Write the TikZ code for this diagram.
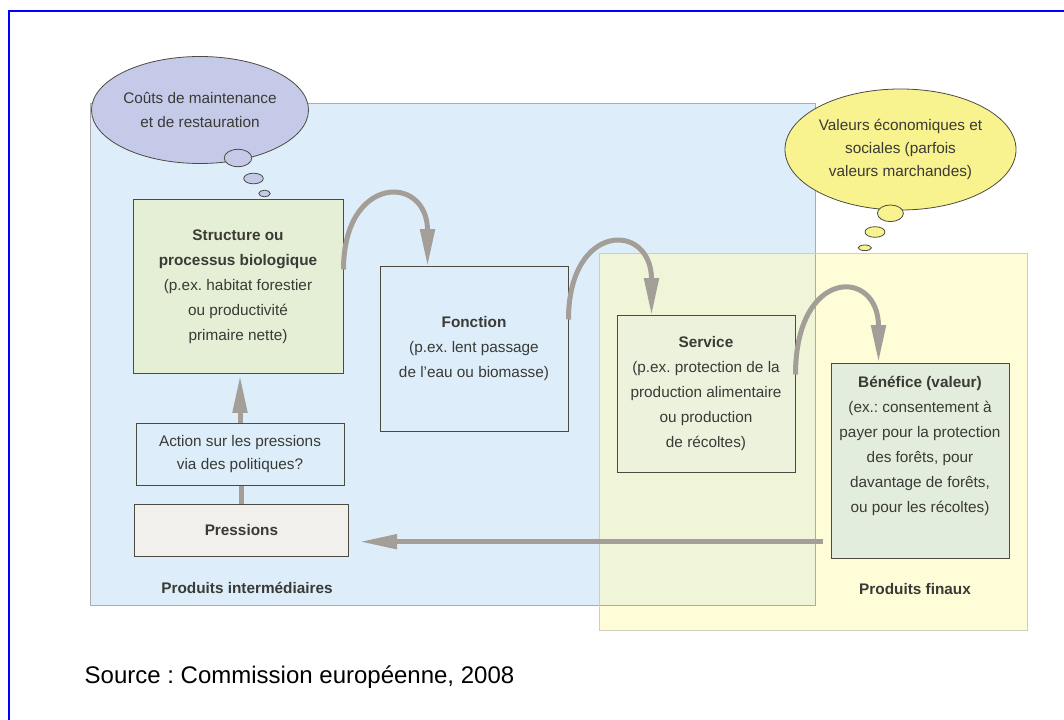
\documentclass[tikz,border=0pt]{standalone}
\usepackage{fontspec}
\setmainfont{Liberation Sans}
\usepackage{tikz}
\usetikzlibrary{
  shapes.geometric
  , calc
  , arrows.meta
}
\frenchspacing
% couleurs
\definecolor{bleuzone}{HTML}{DDEEFA}
\definecolor{jaunezone}{HTML}{FFFDD8}
\definecolor{mixzone}{HTML}{F0F5D8}
\definecolor{bordzone}{HTML}{ABABAB}
\definecolor{bordjaune}{HTML}{CFCFBE}
\definecolor{bord}{HTML}{4B4B42}
\definecolor{texte}{HTML}{3A3A36}
\definecolor{gris}{HTML}{A39F98}
\definecolor{vertstruct}{HTML}{E4EFD5}
\definecolor{vertserv}{HTML}{EDF2DC}
\definecolor{vertbene}{HTML}{E3EDDD}
\definecolor{grispress}{HTML}{F1F0EC}
\definecolor{lavande}{HTML}{C5CAE8}
\definecolor{jaunebulle}{HTML}{F8F38E}
\def\boitefont{\fontsize{11.5}{18.75}\selectfont}
\def\bullefont{\fontsize{11.5}{17.5}\selectfont}
\tikzset{
  boite/.style={rectangle, draw=bord, line width=0.75pt, align=center,
    inner sep=0pt, font=\boitefont, text=texte},
  bulle/.style={ellipse, draw=bord, line width=0.6pt, align=center,
    inner sep=0pt, font=\bullefont, text=texte},
  fleche/.style={draw=gris, line width=3.75pt,
    -{Triangle[length=28pt,width=10.5pt]}},
  trait/.style={draw=gris, line width=3.75pt},
  zone/.style={font=\boitefont\bfseries, text=texte},
}

\begin{document}
\begin{tikzpicture}[x=0.75pt, y=-0.75pt]
  \useasboundingbox [fill=white] (0,0) rectangle (1064,720);
  \draw [blue, line width=1.8pt] (8.8,720) -- (8.8,10.8) -- (1064,10.8);

  % zones
  \fill [bleuzone] (90.6,103.3) rectangle (815.6,605.7);
  \fill [jaunezone] (599,253.3) rectangle (1027.3,630.7);
  \fill [mixzone] (599,253.3) rectangle (815.6,605.7);
  \draw [bordzone, line width=0.75pt] (90.6,103.3) rectangle (815.6,605.7);
  \draw [bordjaune, line width=0.75pt] (599,253.3) rectangle (1027.3,630.7);

  % boites
  \node [boite, fill=vertstruct,
    minimum width=157.5pt,
    minimum height=129.75pt] (struct) at (238,286.5)
    {\textbf{Structure ou}\\ \textbf{processus biologique}\\
     (p.ex. habitat forestier\\ ou productivité\\ primaire nette)};
  \node [boite, fill=bleuzone,
    minimum width=141pt,
    minimum height=123pt] (fonc) at (474,349)
    {\textbf{Fonction}\\ (p.ex. lent passage\\ de l’eau ou biomasse)};
  \node [boite, fill=vertserv,
    minimum width=133.5pt,
    minimum height=117pt] (serv) at (706,394)
    {\textbf{Service}\\ (p.ex. protection de la\\ production alimentaire\\
     ou production\\ de récoltes)};
  \node [boite, fill=vertbene,
    minimum width=133.5pt,
    minimum height=146.25pt] (bene) at (920,460.5)
    {\textbf{Bénéfice (valeur)}\\ (ex.: consentement à\\
     payer pour la protection\\ des forêts, pour\\
     davantage de forêts,\\ ou pour les récoltes)\\[6pt]};
  \node [boite, fill=bleuzone, font=\bullefont,
    minimum width=156pt,
    minimum height=46.5pt] (action) at (240,454)
    {Action sur les pressions\\ via des politiques?};
  \node [boite, fill=grispress,
    minimum width=160.9pt,
    minimum height=39.4pt] (press) at (241.4,530.5)
    {\textbf{Pressions}};

  \node [zone] (inter) at (247,588) {Produits intermédiaires};
  \node [zone] (finaux) at (915,589) {Produits finaux};

  % fleches
  \draw [fleche] ($(struct.north east)+(0,70)$)
    .. controls ($(struct.north east)+(0,-25.5)$)
    and ($(fonc.north west)+(48,-92.5)$) .. ($(fonc.north west)+(48,0)$);
  \draw [fleche] ($(fonc.north east)+(0,53)$)
    .. controls ($(fonc.north east)+(0,-45)$)
    and ($(serv.north west)+(35,-94)$) .. ($(serv.north west)+(35,0)$);
  \draw [fleche] ($(serv.north east)+(0,59)$)
    .. controls ($(serv.north east)+(0,-48.3)$)
    and ($(bene.north west)+(48,-95)$) .. ($(bene.north west)+(48,0)$);

  \coordinate (retour) at (0,541.7);
  \draw [fleche, shorten <=6pt, shorten >=7.9pt]
    (bene.west |- retour) -- (press.east |- retour);
  \draw [fleche, shorten >=1.5pt] (action.north) -- (action.north |- struct.south);
  \draw [trait] (press.north) -- (press.north |- action.south);

  % bulles
  \node [bulle, fill=lavande,
    minimum width=151.5pt,
    minimum height=80.25pt] (couts) at (200,110)
    {Coûts de maintenance\\ et de restauration};
  \draw [bord, fill=lavande, line width=0.6pt] (238,158) ellipse [x radius=13.8, y radius=8.7];
  \draw [bord, fill=lavande, line width=0.6pt] (253.5,178.5) ellipse [x radius=9.8, y radius=5.3];
  \draw [bord, fill=lavande, line width=0.6pt] (264.5,193.5) ellipse [x radius=5.7, y radius=3.3];

  \node [bulle, fill=jaunebulle,
    minimum width=171pt,
    minimum height=90.75pt] (valeurs) at (900.5,149.5)
    {Valeurs économiques et\\ sociales (parfois\\ valeurs marchandes)};
  \draw [bord, fill=jaunebulle, line width=0.6pt] (890.4,213.3) ellipse [x radius=13, y radius=8.3];
  \draw [bord, fill=jaunebulle, line width=0.6pt] (875,232) ellipse [x radius=10, y radius=5.3];
  \draw [bord, fill=jaunebulle, line width=0.6pt] (864.8,247.8) ellipse [x radius=6.6, y radius=2.8];

  \node [anchor=west, font=\fontsize{18}{22}\selectfont, text=black] (source) at (80,677)
    {Source : Commission européenne, 2008};
\end{tikzpicture}
\end{document}
